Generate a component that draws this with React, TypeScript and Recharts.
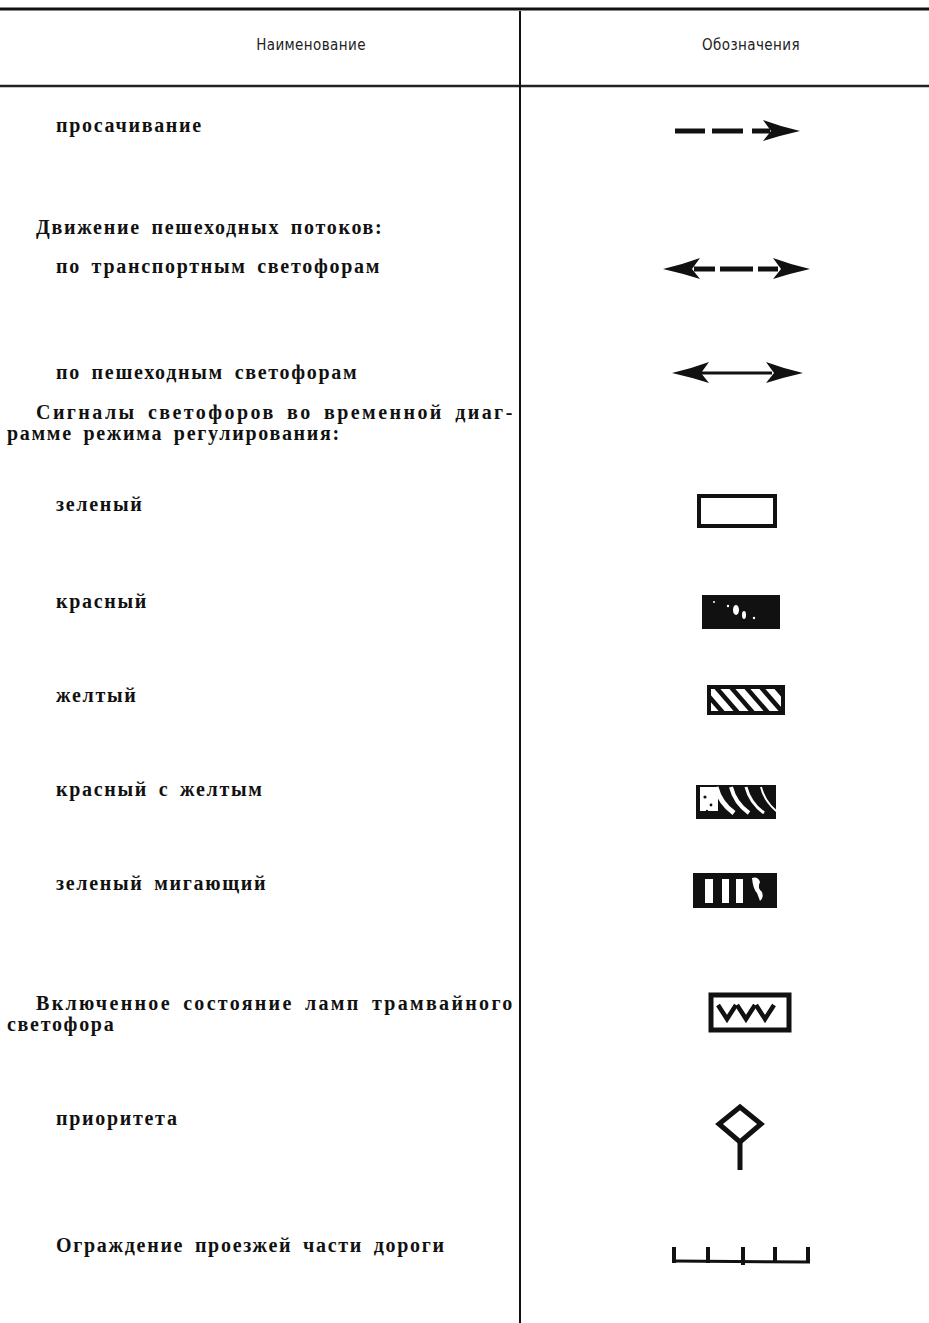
import React from 'react';
import { ScatterChart, Scatter, XAxis, YAxis, ReferenceLine } from 'recharts';

const W = 929;
const H = 1323;
const INK = '#111';

// column headers
const headers = ['Наименование', 'Обозначения'];
const headerCols = [311, 751];
const headerRow = 45;

// left column: row names
const labels = [
  'просачивание',
  'Движение пешеходных потоков:',
  'по транспортным светофорам',
  'по пешеходным светофорам',
  'Сигналы светофоров во временной диаг-',
  'рамме режима регулирования:',
  'зеленый',
  'красный',
  'желтый',
  'красный с желтым',
  'зеленый мигающий',
  'Включенное состояние ламп трамвайного',
  'светофора',
  'приоритета',
  'Ограждение проезжей части дороги',
];
const labelRows = [125, 227, 266, 372, 412, 433, 504, 601, 695, 789, 883, 1003, 1024, 1118, 1245];
// 0 = run-on line, 1 = paragraph start, 2 = list item
const labelLevel = [2, 1, 2, 2, 1, 0, 2, 2, 2, 2, 2, 1, 0, 2, 2];
const labelJustified = [false, false, false, false, true, false, false, false, false, false, false, true, false, false, false];

// right column: symbols
const symbols = ['dashArrow', 'dashBoth', 'solidBoth', 'green', 'red', 'yellow', 'redYellow', 'greenBlink', 'tram', 'priority', 'fence'];
const symbolRows = [131, 269, 373, 511, 612, 700, 802, 890, 1012, 1137, 1261];

const levelX = [7, 36, 56];
const SYMBOL_X = 740;
const TEXT_END = 514;

const headerData = headers.map((text, i) => ({ x: headerCols[i], y: headerRow, text }));
const labelData = labels.map((text, i) => ({ x: levelX[labelLevel[i]], y: labelRows[i], text, justify: labelJustified[i] }));
const symbolData = symbols.map((kind, i) => ({ x: SYMBOL_X, y: symbolRows[i], kind }));

function HeaderMark(props: any) {
  const { cx, cy, payload } = props;
  return (
    <text x={cx} y={cy} dy="0.36em" textAnchor="middle" fontFamily="'Liberation Sans Narrow', 'DejaVu Sans Condensed', 'Noto Sans', sans-serif" fontSize={15} letterSpacing={0.4} fill="#222">
      {payload.text}
    </text>
  );
}

function LabelMark(props: any) {
  const { cx, cy, payload } = props;
  return (
    <text
      x={cx}
      y={cy}
      dy="0.34em"
      fontFamily="'Liberation Serif', 'DejaVu Serif', serif"
      fontWeight={700}
      fontSize={20}
      letterSpacing={1.7}
      wordSpacing={4}
      fill={INK}
      textLength={payload.justify ? TEXT_END - cx : undefined}
      lengthAdjust={payload.justify ? 'spacing' : undefined}
    >
      {payload.text}
    </text>
  );
}

function head(tx: number, y: number, dir: number) {
  const L = 37, h = 10, n = 29;
  return (
    <path
      d={`M${tx},${y} Q${tx - dir * 18},${y - 4} ${tx - dir * L},${y - h - 1} L${tx - dir * n},${y} L${tx - dir * L},${y + h} Q${tx - dir * 18},${y + 4} ${tx},${y} Z`}
      fill={INK}
    />
  );
}

function dash(cx: number, cy: number, a: number, b: number, w = 5) {
  return <line x1={cx + a} y1={cy} x2={cx + b} y2={cy} stroke={INK} strokeWidth={w} />;
}

function SymbolMark(props: any) {
  const { cx, cy, payload } = props;
  switch (payload.kind) {
    case 'dashArrow':
      return (
        <g>
          {dash(cx, cy, -65, -35)}
          {dash(cx, cy, -28, 3)}
          {dash(cx, cy, 12, 30)}
          {head(cx + 60, cy, 1)}
        </g>
      );
    case 'dashBoth':
      return (
        <g>
          {head(cx - 77, cy, -1)}
          {dash(cx, cy, -46, -25)}
          {dash(cx, cy, -20, 13)}
          {dash(cx, cy, 18, 38)}
          {head(cx + 70, cy, 1)}
        </g>
      );
    case 'solidBoth':
      return (
        <g>
          {head(cx - 68, cy, -1)}
          {dash(cx, cy, -40, 32, 3)}
          {head(cx + 63, cy, 1)}
        </g>
      );
    case 'green':
      return <rect x={cx - 41} y={cy - 15} width={76} height={30} fill="#fff" stroke={INK} strokeWidth={4} />;
    case 'red':
      return (
        <g>
          <rect x={cx - 38} y={cy - 17} width={78} height={34} fill={INK} />
          <ellipse cx={cx - 4} cy={cy - 2} rx={3} ry={5} fill="#fff" />
          <ellipse cx={cx + 4} cy={cy + 3} rx={2} ry={4} fill="#fff" />
          <circle cx={cx - 12} cy={cy - 6} r={1.2} fill="#fff" />
          <circle cx={cx + 14} cy={cy + 6} r={1.2} fill="#fff" />
          <circle cx={cx - 26} cy={cy - 10} r={1} fill="#fff" />
        </g>
      );
    case 'yellow': {
      const x0 = cx - 33, y0 = cy - 15, w = 78, h = 30;
      return (
        <g>
          <clipPath id="clipYellow">
            <rect x={x0} y={y0} width={w} height={h} />
          </clipPath>
          <rect x={x0} y={y0} width={w} height={h} fill="#fff" />
          <g clipPath="url(#clipYellow)">
            {[0, 1, 2, 3, 4, 5].map((i) => (
              <line key={i} x1={x0 - 8 + i * 15} y1={y0} x2={x0 + 18 + i * 15} y2={y0 + h} stroke={INK} strokeWidth={4.5} />
            ))}
          </g>
          <rect x={x0 + 2} y={y0 + 2} width={w - 4} height={h - 4} fill="none" stroke={INK} strokeWidth={4} />
        </g>
      );
    }
    case 'redYellow': {
      const x0 = cx - 44, y0 = cy - 17, w = 80, h = 34;
      return (
        <g>
          <clipPath id="clipRY">
            <rect x={x0} y={y0} width={w} height={h} />
          </clipPath>
          <rect x={x0} y={y0} width={w} height={h} fill={INK} />
          <g clipPath="url(#clipRY)">
            <rect x={x0 + 4} y={y0 + 2} width={18} height={h - 10} fill="#fff" />
            {[0, 1, 2, 3].map((i) => (
              <path
                key={i}
                d={`M${x0 + 20 + i * 15},${y0 + 2} Q${x0 + 24 + i * 15},${y0 + 18} ${x0 + 38 + i * 15},${y0 + h - 6}`}
                stroke="#fff"
                strokeWidth={5 - i}
                fill="none"
              />
            ))}
          </g>
          <circle cx={x0 + 9} cy={y0 + 12} r={1.6} fill={INK} />
          <circle cx={x0 + 15} cy={y0 + 20} r={1.4} fill={INK} />
          <circle cx={x0 + 11} cy={y0 + 26} r={1.2} fill={INK} />
        </g>
      );
    }
    case 'greenBlink': {
      const x0 = cx - 47, y0 = cy - 17;
      return (
        <g>
          <rect x={x0} y={y0} width={84} height={35} fill={INK} />
          <rect x={cx - 35} y={cy - 11} width={8} height={24} fill="#fff" />
          <rect x={cx - 18} y={cy - 11} width={7} height={24} fill="#fff" />
          <rect x={cx - 4} y={cy - 11} width={7} height={24} fill="#fff" />
          <path d={`M${cx + 12},${cy - 12} q6,-2 8,4 q-3,6 2,10 q2,6 -2,9 l-3,-8 q-4,-4 -5,-15 Z`} fill="#fff" />
        </g>
      );
    }
    case 'tram':
      return (
        <g>
          <rect x={cx - 29} y={cy - 17} width={78} height={35} fill="#fff" stroke={INK} strokeWidth={5} />
          {[-22, -3, 16].map((v) => (
            <polyline
              key={v}
              points={`${cx + v},${cy - 7} ${cx + v + 9},${cy + 7} ${cx + v + 18},${cy - 7}`}
              fill="none"
              stroke={INK}
              strokeWidth={4.5}
              strokeLinejoin="miter"
            />
          ))}
        </g>
      );
    case 'priority':
      return (
        <g>
          <polygon
            points={`${cx},${cy - 30} ${cx + 21},${cy - 13} ${cx},${cy + 5} ${cx - 21},${cy - 13}`}
            fill="none"
            stroke={INK}
            strokeWidth={5}
          />
          <line x1={cx} y1={cy + 5} x2={cx} y2={cy + 33} stroke={INK} strokeWidth={5} />
        </g>
      );
    case 'fence':
      return (
        <g>
          <line x1={cx - 66} y1={cy} x2={cx + 70} y2={cy + 1} stroke={INK} strokeWidth={3} />
          {[-66, -32, 3, 35, 68].map((t, i) => (
            <line key={t} x1={cx + t} y1={cy - 14} x2={cx + t} y2={cy + (i === 2 ? 4 : 2)} stroke={INK} strokeWidth={4} />
          ))}
        </g>
      );
    default:
      return <g />;
  }
}

export default function App() {
  return (
    <div style={{ position: 'absolute', left: 0, top: 0, width: W, height: H, background: '#fff' }}>
      <ScatterChart width={W} height={H} margin={{ top: 0, right: 0, bottom: 0, left: 0 }}>
        <XAxis type="number" dataKey="x" domain={[0, W]} hide allowDataOverflow />
        <YAxis type="number" dataKey="y" domain={[0, H]} reversed hide allowDataOverflow />
        <ReferenceLine y={9} stroke={INK} strokeWidth={3} ifOverflow="visible" />
        <ReferenceLine y={86} stroke="#222" strokeWidth={2.5} ifOverflow="visible" />
        <ReferenceLine segment={[{ x: 520, y: 11 }, { x: 520, y: H }]} stroke={INK} strokeWidth={2} ifOverflow="visible" />
        <Scatter data={headerData} shape={(p: any) => <HeaderMark {...p} />} isAnimationActive={false} />
        <Scatter data={labelData} shape={(p: any) => <LabelMark {...p} />} isAnimationActive={false} />
        <Scatter data={symbolData} shape={(p: any) => <SymbolMark {...p} />} isAnimationActive={false} />
      </ScatterChart>
    </div>
  );
}
